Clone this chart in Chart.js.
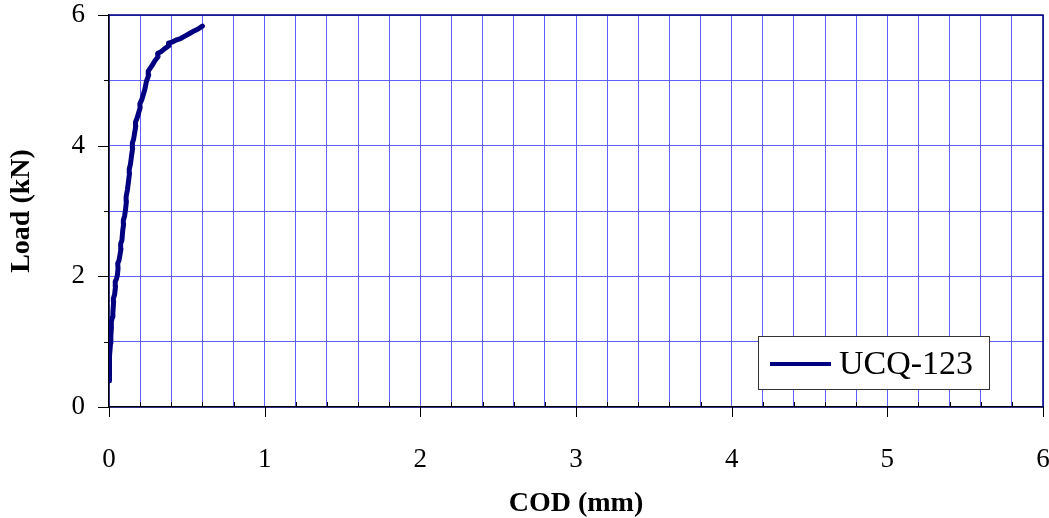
<!DOCTYPE html>
<html>
<head>
<meta charset="utf-8">
<script src="https://cdn.jsdelivr.net/npm/chart.js@4/dist/chart.umd.min.js"></script>
<style>
  html, body { margin: 0; padding: 0; background: #fff; }
  #wrap { width: 1049px; height: 518px; }
</style>
</head>
<body>
<div id="wrap"><canvas id="chart"></canvas></div>
<script>
// datos
const seriesName = 'UCQ-123';
const codValues = [0, 0.002, 0.001, 0.006, 0.004, 0.010, 0.012, 0.016, 0.015, 0.022, 0.025, 0.030, 0.028, 0.036, 0.042, 0.040, 0.048, 0.054, 0.058, 0.056, 0.064, 0.070, 0.077, 0.075, 0.083, 0.088, 0.094, 0.092, 0.100, 0.106, 0.112, 0.110, 0.118, 0.125, 0.132, 0.130, 0.138, 0.145, 0.152, 0.150, 0.158, 0.165, 0.172, 0.170, 0.180, 0.190, 0.200, 0.198, 0.210, 0.220, 0.230, 0.240, 0.255, 0.252, 0.275, 0.295, 0.315, 0.312, 0.335, 0.360, 0.385, 0.382, 0.410, 0.435, 0.460, 0.490, 0.520, 0.550, 0.575, 0.600];
const loadValues = [0.40, 0.55, 0.68, 0.80, 0.78, 0.98, 1.10, 1.22, 1.30, 1.38, 1.45, 1.62, 1.66, 1.72, 1.85, 1.92, 1.96, 2.02, 2.12, 2.20, 2.24, 2.32, 2.42, 2.50, 2.55, 2.70, 2.80, 2.86, 2.92, 3.02, 3.15, 3.22, 3.32, 3.45, 3.58, 3.64, 3.72, 3.85, 3.96, 4.04, 4.10, 4.20, 4.30, 4.36, 4.42, 4.50, 4.58, 4.64, 4.70, 4.78, 4.86, 4.98, 5.08, 5.14, 5.22, 5.30, 5.36, 5.41, 5.44, 5.49, 5.53, 5.57, 5.59, 5.62, 5.64, 5.68, 5.72, 5.76, 5.79, 5.83];
const xLabels = [0, 1, 2, 3, 4, 5, 6];
const yLabels = [0, 2, 4, 6];

const serif = "'Liberation Serif', 'Times New Roman', serif";
const gridBlue = '#6060ff';
const navy = '#000080';

const points = codValues.map((x, i) => ({ x: x, y: loadValues[i] }));

// marcas de los ejes, borde superior/derecho y leyenda
const extrasPlugin = {
  id: 'extras',
  afterDraw(chart) {
    const { ctx, chartArea: a, scales: { x, y } } = chart;
    ctx.save();
    // borde superior y derecho
    ctx.strokeStyle = navy;
    ctx.lineWidth = 1.5;
    ctx.beginPath();
    ctx.moveTo(a.left, a.top);
    ctx.lineTo(a.right, a.top);
    ctx.lineTo(a.right, a.bottom);
    ctx.stroke();

    ctx.strokeStyle = '#000';
    ctx.lineWidth = 1;
    ctx.beginPath();
    for (let i = 0; i <= 30; i++) {
      const v = i / 5;
      const px = Math.round(x.getPixelForValue(v)) + 0.5;
      if (i % 5 === 0) {
        ctx.moveTo(px, a.bottom);
        ctx.lineTo(px, a.bottom + 10);
      } else {
        ctx.moveTo(px, a.bottom);
        ctx.lineTo(px, a.bottom - 5);
      }
    }
    for (let v = 0; v <= 6; v++) {
      const py = Math.round(y.getPixelForValue(v)) + 0.5;
      ctx.moveTo(a.left, py);
      ctx.lineTo(a.left - (v % 2 === 0 ? 11 : 5), py);
    }
    ctx.stroke();

    // leyenda
    const ds = chart.data.datasets[0];
    const bx = 758, by = 336, bw = 231, bh = 53;
    ctx.fillStyle = '#fff';
    ctx.fillRect(bx, by, bw, bh);
    ctx.strokeStyle = '#333';
    ctx.lineWidth = 1;
    ctx.strokeRect(bx + 0.5, by + 0.5, bw, bh);
    ctx.strokeStyle = ds.borderColor;
    ctx.lineWidth = 4;
    ctx.beginPath();
    ctx.moveTo(770, 364);
    ctx.lineTo(831, 364);
    ctx.stroke();
    ctx.fillStyle = '#000';
    ctx.font = '34px ' + serif;
    ctx.textBaseline = 'middle';
    ctx.textAlign = 'left';
    ctx.fillText(ds.label, 839, 365);
    ctx.restore();
  }
};

new Chart(document.getElementById('chart'), {
  type: 'scatter',
  data: {
    datasets: [{
      label: seriesName,
      data: points,
      showLine: true,
      borderColor: navy,
      backgroundColor: navy,
      borderWidth: 5,
      borderJoinStyle: 'round',
      borderCapStyle: 'round',
      pointRadius: 0,
      tension: 0
    }]
  },
  options: {
    responsive: true,
    maintainAspectRatio: false,
    animation: false,
    layout: { padding: { top: 15, right: 6, left: 0, bottom: 0 } },
    plugins: {
      legend: { display: false },
      tooltip: { enabled: false }
    },
    scales: {
      x: {
        type: 'linear',
        min: 0,
        max: 6,
        afterFit(scale) {
          scale.height = 111;
          scale.paddingLeft = 0;
          scale.paddingRight = 0;
        },
        ticks: {
          stepSize: 0.2,
          autoSkip: false,
          maxRotation: 0,
          padding: 39,
          color: '#000',
          font: { family: serif, size: 27, lineHeight: 1 },
          callback: v => {
            const r = Math.round(v);
            return Math.abs(v - r) < 1e-6 && xLabels.includes(r) ? String(r) : '';
          }
        },
        grid: { color: gridBlue, lineWidth: 1, drawTicks: false },
        border: { color: '#000', width: 1.5 },
        title: {
          display: true,
          text: 'COD (mm)',
          color: '#000',
          font: { family: serif, size: 28, weight: 'bold', lineHeight: 1 },
          padding: { top: 0, bottom: 0 }
        }
      },
      y: {
        type: 'linear',
        min: 0,
        max: 6,
        afterFit(scale) {
          scale.width = 109;
          scale.paddingTop = 0;
          scale.paddingBottom = 0;
        },
        ticks: {
          stepSize: 1,
          padding: 24,
          color: '#000',
          font: { family: serif, size: 27, lineHeight: 1 },
          callback: v => yLabels.includes(v) ? String(v) : ''
        },
        grid: { color: gridBlue, lineWidth: 1, drawTicks: false },
        border: { color: '#000', width: 1.5 },
        title: {
          display: true,
          text: 'Load (kN)',
          color: '#000',
          font: { family: serif, size: 28, weight: 'bold', lineHeight: 1 },
          padding: { top: 8, bottom: 0 }
        }
      }
    }
  },
  plugins: [extrasPlugin]
});
</script>
</body>
</html>
